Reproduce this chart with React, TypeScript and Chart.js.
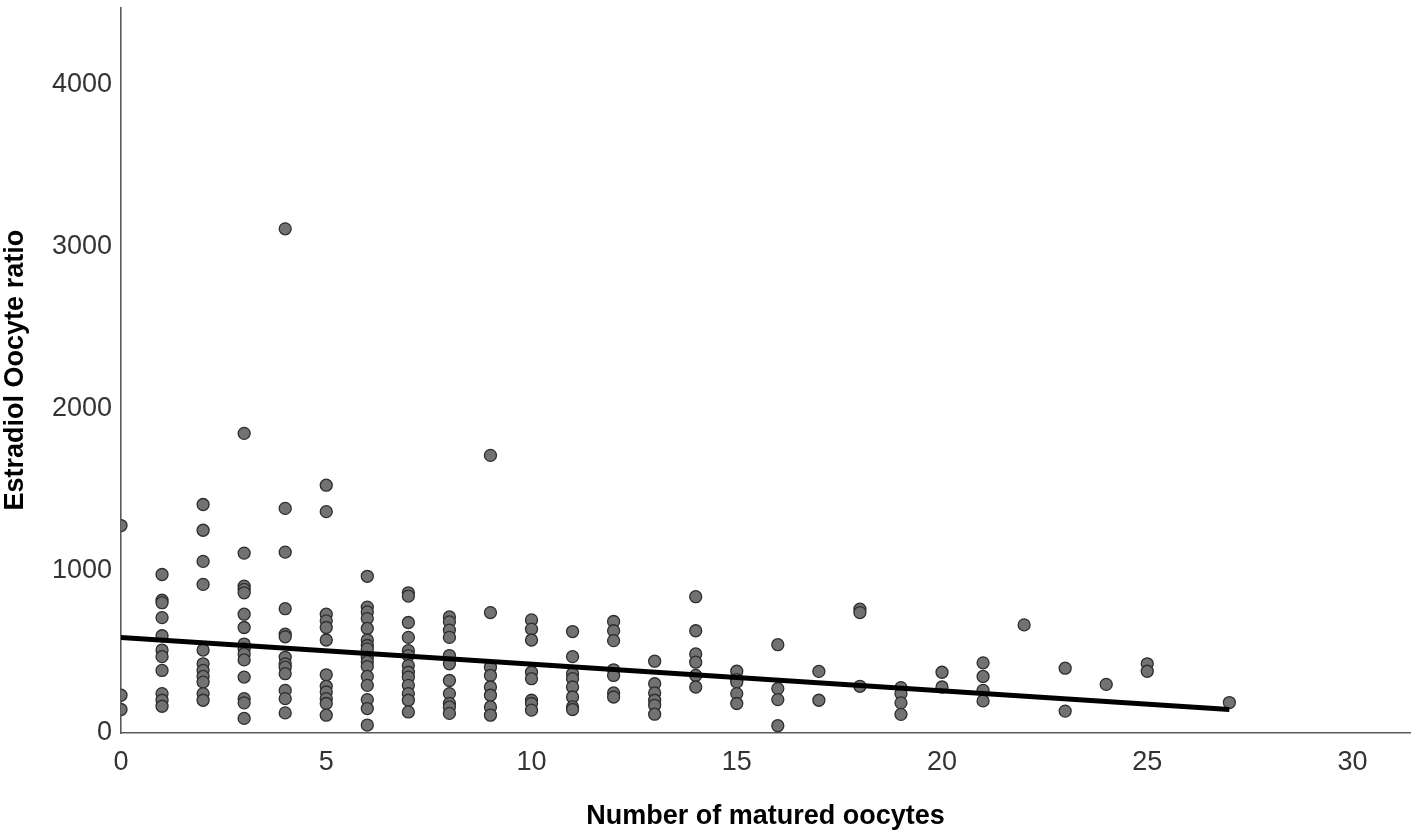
import React, { useEffect, useRef } from "react";
import { Chart, registerables } from "chart.js";

Chart.register(...registerables);

// Number of matured oocytes (x) and the Estradiol/Oocyte ratios observed at each count
const oocyteCounts = [0, 1, 2, 3, 4, 5, 6, 7, 8, 9, 10, 11, 12, 13, 14, 15, 16, 17, 18, 19, 20, 21, 22, 23, 24, 25, 27];
const ratioColumns = [
  [1280, 233, 145],
  [978, 819, 804, 712, 600, 512, 471, 386, 243, 202, 165],
  [1410, 1251, 1059, 917, 512, 427, 386, 349, 314, 243, 202],
  [1849, 1110, 906, 886, 865, 733, 651, 549, 519, 488, 451, 345, 212, 186, 90],
  [3111, 1386, 1116, 767, 610, 594, 467, 427, 406, 366, 263, 212, 124],
  [1529, 1366, 733, 692, 651, 574, 359, 288, 253, 212, 182, 110],
  [967, 777, 747, 706, 645, 574, 540, 519, 467, 440, 410, 349, 294, 206, 151, 49],
  [865, 845, 682, 590, 508, 478, 416, 375, 345, 294, 243, 202, 130],
  [716, 686, 635, 590, 478, 427, 324, 243, 182, 161, 121],
  [1713, 743, 406, 355, 284, 233, 161, 110],
  [698, 641, 574, 375, 335, 202, 182, 141],
  [626, 471, 366, 335, 284, 222, 161, 145],
  [688, 631, 570, 390, 355, 247, 222],
  [443, 304, 247, 202, 171, 116],
  [841, 631, 488, 437, 355, 284],
  [381, 329, 314, 243, 182],
  [545, 274, 206, 45],
  [380, 202],
  [764, 743, 288],
  [280, 243, 186, 115],
  [375, 284],
  [433, 349, 263, 198],
  [667],
  [400, 135],
  [300],
  [427, 381],
  [188],
];

// Fitted line end points
const fitX = [0, 27];
const fitY = [590, 145];

const xTicks = [0, 5, 10, 15, 20, 25, 30];
const yTicks = [0, 1000, 2000, 3000, 4000];

export default function App() {
  const canvasRef = useRef<HTMLCanvasElement | null>(null);

  useEffect(() => {
    const canvas = canvasRef.current;
    if (!canvas) return;

    const points: { x: number; y: number }[] = [];
    oocyteCounts.forEach((c, i) => {
      ratioColumns[i].forEach((v) => points.push({ x: c, y: v }));
    });
    const fitPoints = fitX.map((x, i) => ({ x, y: fitY[i] }));

    const tickFont = { family: "'Liberation Sans', Arial, sans-serif", size: 27, weight: "normal" as const };
    const titleFont = { family: "'Liberation Sans', Arial, sans-serif", size: 27, weight: "bold" as const, lineHeight: 1.15 };

    const chart = new Chart(canvas, {
      type: "scatter",
      data: {
        datasets: [
          {
            type: "line",
            label: "Fit",
            data: fitPoints,
            borderColor: "#000000",
            borderWidth: 5,
            pointRadius: 0,
            fill: false,
            order: 0,
          },
          {
            type: "scatter",
            label: "Patients",
            data: points,
            backgroundColor: "#727272",
            borderColor: "#2e2e2e",
            borderWidth: 1.3,
            pointRadius: 6,
            order: 1,
          },
        ],
      },
      options: {
        animation: false,
        responsive: false,
        maintainAspectRatio: false,
        layout: { padding: { top: 2, right: 8, left: 0, bottom: 0 } },
        plugins: {
          legend: { display: false },
          tooltip: { enabled: false },
        },
        scales: {
          x: {
            type: "linear",
            min: 0,
            max: 31.4,
            grid: { display: false, drawTicks: false },
            border: { display: true, color: "#5a5a5a", width: 1.6 },
            afterBuildTicks: (scale: any) => {
              scale.ticks = xTicks.map((v) => ({ value: v }));
            },
            ticks: {
              padding: 13,
              color: "#333333",
              font: tickFont,
              maxRotation: 0,
              callback: (v: any) => String(v),
            },
            title: {
              display: true,
              text: "Number of matured oocytes",
              color: "#000000",
              font: titleFont,
              padding: { top: 0, bottom: 1 },
            },
            afterFit: (scale: any) => {
              scale.height = 100;
              scale.paddingLeft = 0;
              scale.paddingRight = 0;
            },
          },
          y: {
            type: "linear",
            min: 0,
            max: 4478,
            grid: { display: false, drawTicks: false },
            border: { display: true, color: "#5a5a5a", width: 1.6 },
            afterBuildTicks: (scale: any) => {
              scale.ticks = yTicks.map((v) => ({ value: v }));
            },
            ticks: {
              padding: 9,
              color: "#333333",
              font: tickFont,
              callback: (v: any) => String(v),
            },
            title: {
              display: true,
              text: "Estradiol Oocyte ratio",
              color: "#000000",
              font: titleFont,
              padding: { top: 0, bottom: 0 },
            },
            afterFit: (scale: any) => {
              scale.width = 121;
              scale.paddingTop = 0;
              scale.paddingBottom = 0;
            },
          },
        },
      },
    });

    return () => chart.destroy();
  }, []);

  return (
    <div style={{ position: "fixed", left: 0, top: 0, width: 1418, height: 833, background: "#ffffff" }}>
      <canvas ref={canvasRef} width={1418} height={833} style={{ display: "block", width: 1418, height: 833 }} />
    </div>
  );
}
